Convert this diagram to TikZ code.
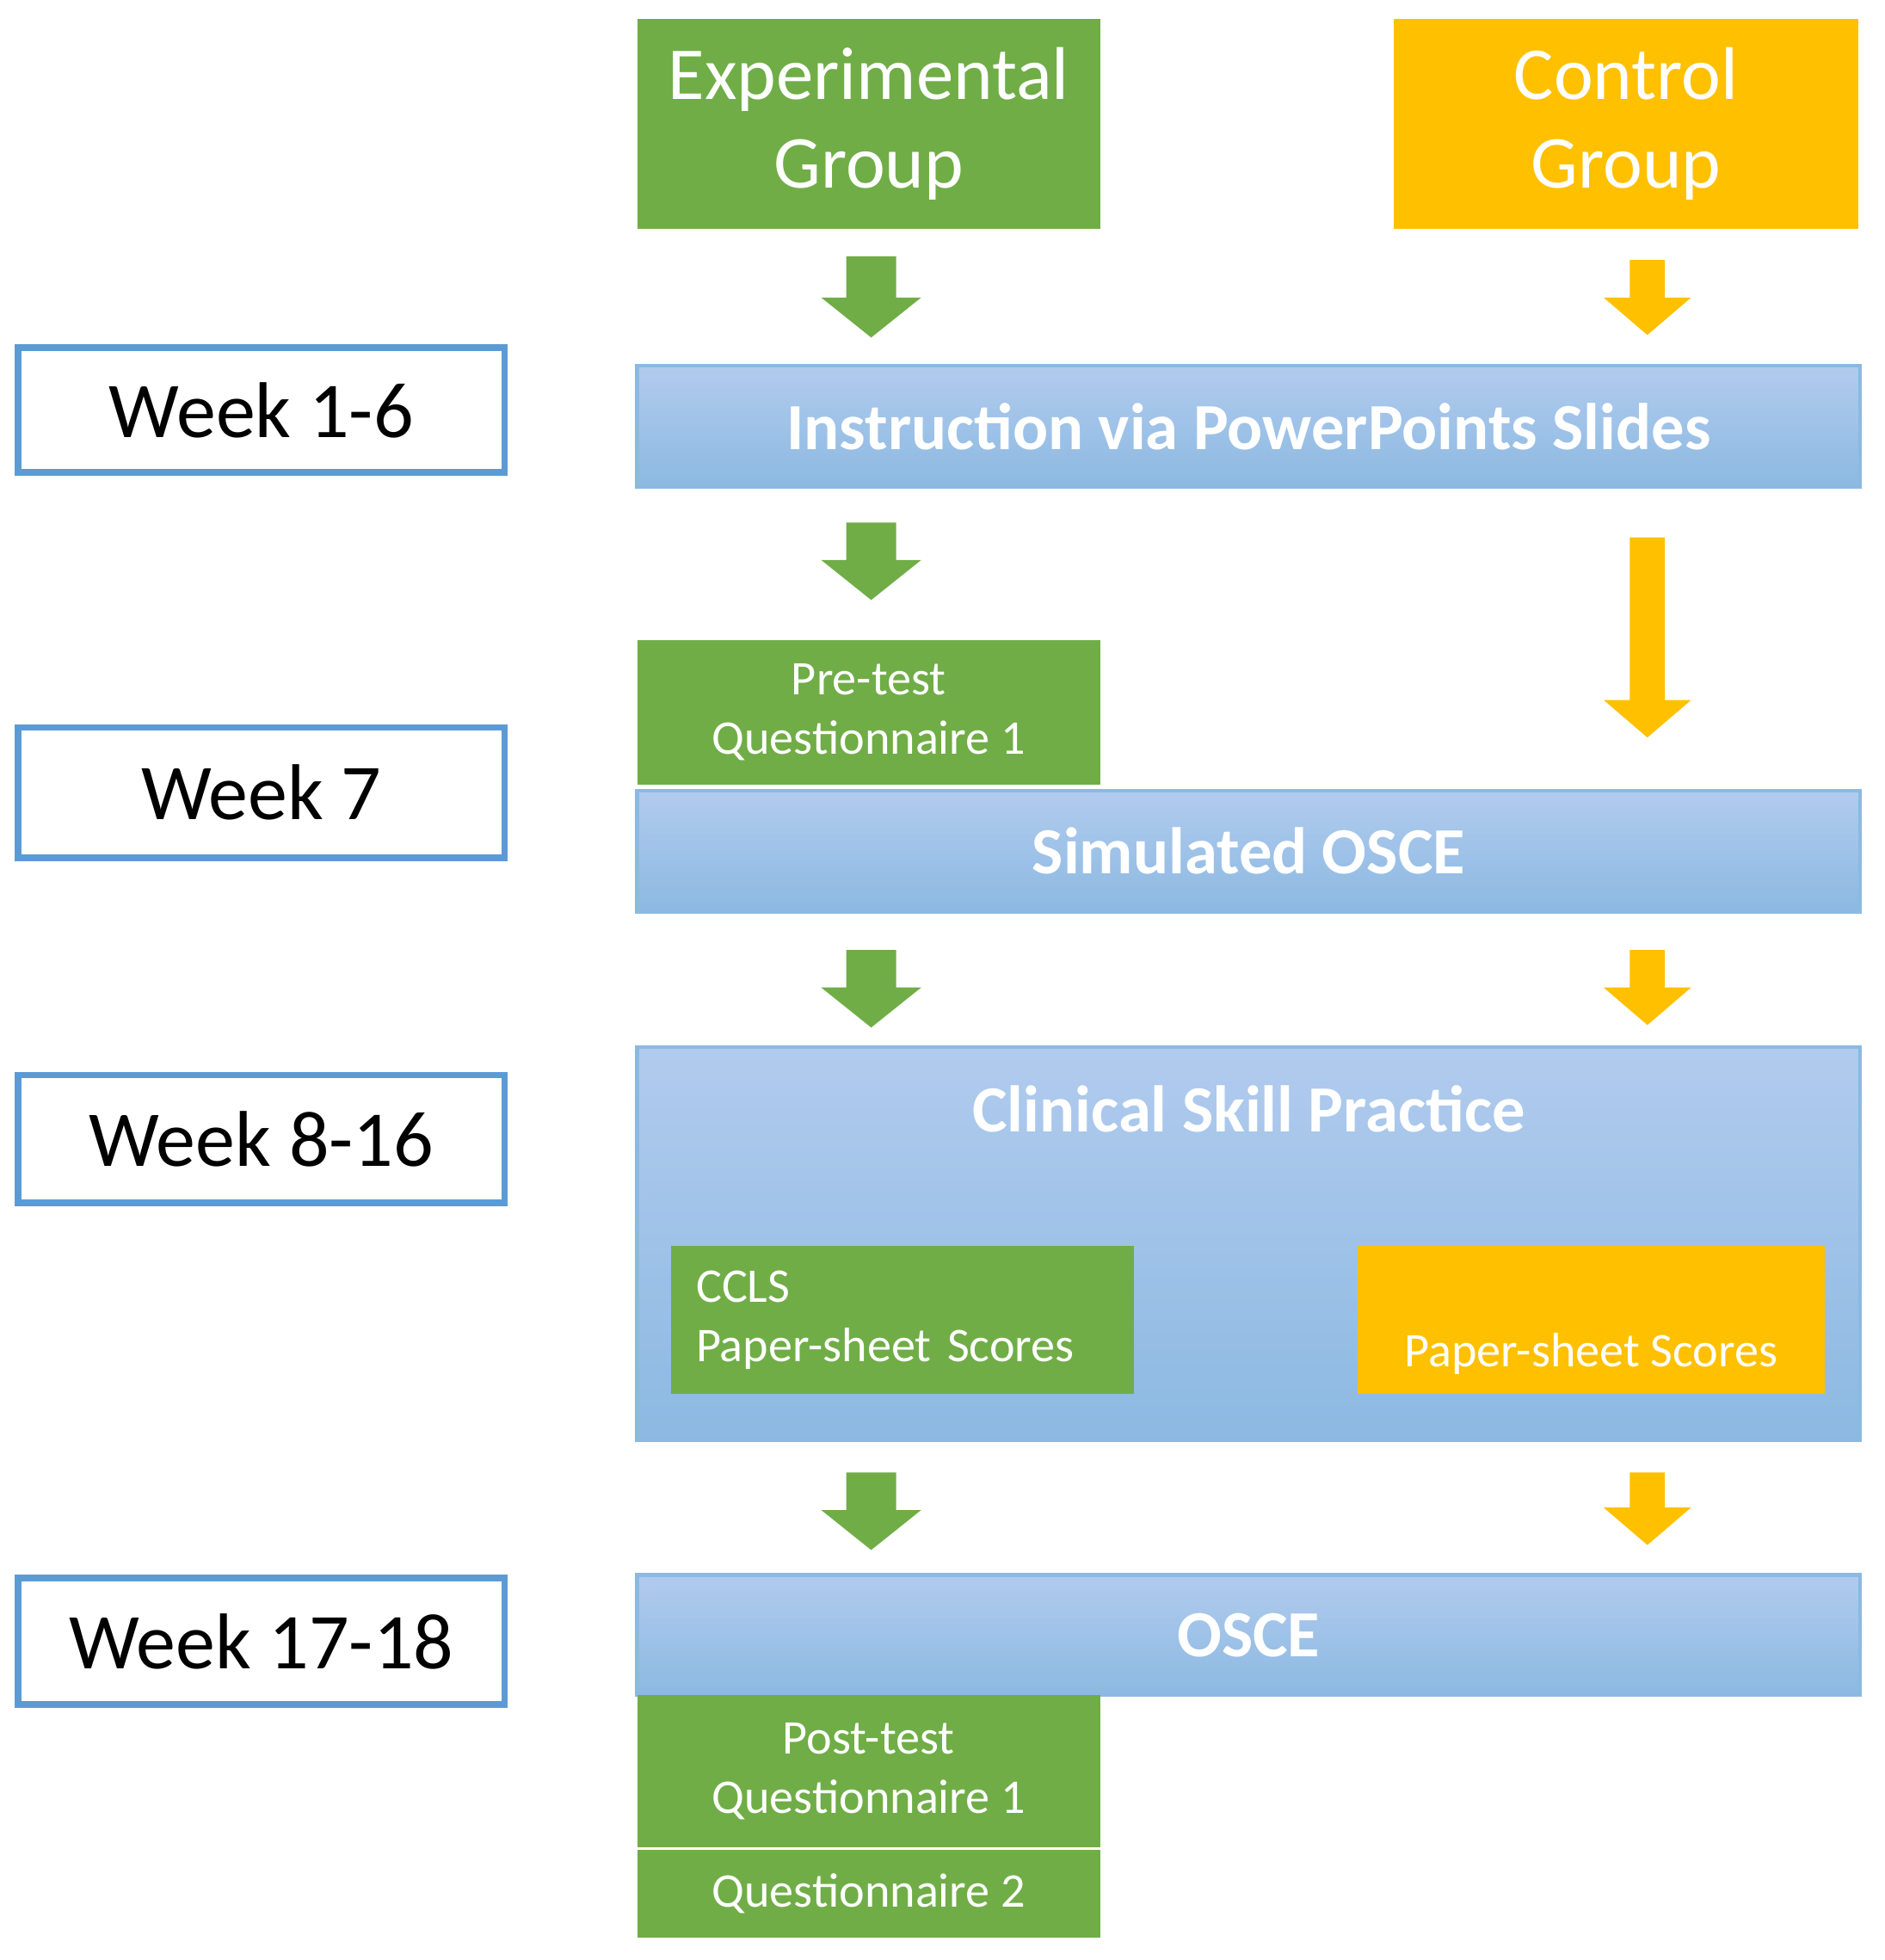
\documentclass[tikz,border=0pt]{standalone}
\usepackage{fontspec}
\setmainfont{Carlito}
\begin{document}
\begin{tikzpicture}[x=0.01cm,y=-0.01cm]
\definecolor{gr}{HTML}{70AD47}
\definecolor{og}{HTML}{FFC000}
\definecolor{bl}{HTML}{5B9BD5}
\tikzset{
 box/.style={draw=none,inner sep=0pt,align=center,text=white},
 bar/.style={draw=bl!70,line width=0.8pt,top color=blue!10!bl!45!white,bottom color=bl!70!white,inner sep=0pt,align=center,text=white,font=\bfseries\fontsize{15}{18}\selectfont},
 week/.style={draw=bl,line width=1.5pt,fill=white,inner sep=0pt,font=\fontsize{18}{22}\selectfont},
}
\useasboundingbox (0,0) rectangle (1508,1568);
\newcommand\blk[7]{% x, ytop, ybot, color, half shaft, half head, head len
 \fill[#4] (#1-#5,#2) -- (#1+#5,#2) -- (#1+#5,#3-#7) -- (#1+#6,#3-#7) -- (#1,#3) -- (#1-#6,#3-#7) -- (#1-#5,#3-#7) -- cycle;}
% groups
\node[box,fill=gr,minimum width=3.70cm,minimum height=1.68cm,font=\fontsize{17}{20}\selectfont] (exp) at (695,99) {Experimental\\Group};
\node[box,fill=og,minimum width=3.71cm,minimum height=1.68cm,font=\fontsize{17}{20}\selectfont] (ctl) at (1301,99) {Control\\Group};
% bars
\node[bar,minimum width=9.78cm,minimum height=0.97cm] (ins) at (999,341) {Instruction via PowerPoints Slides};
\node[box,fill=gr,minimum width=3.70cm,minimum height=1.16cm,font=\fontsize{11}{13.5}\selectfont] (pre) at (695,570) {Pre-test\\Questionnaire 1};
\node[bar,minimum width=9.78cm,minimum height=0.97cm] (sim) at (999,681) {Simulated OSCE};
\node[bar,minimum width=9.78cm,minimum height=3.14cm] (csp) at (999,995) {};
\node[text=white,font=\bfseries\fontsize{15}{18}\selectfont] (cspt) at (999,887) {Clinical Skill Practice};
\node[box,fill=gr,minimum width=3.70cm,minimum height=1.18cm,align=left,font=\fontsize{11}{13.5}\selectfont,text width=3.30cm] (ccls) at (722,1056) {CCLS\\Paper-sheet Scores};
\node[box,fill=og,minimum width=3.73cm,minimum height=1.18cm,font=\fontsize{11}{13.5}\selectfont] (pss) at (1273,1056) {\strut\\Paper-sheet Scores};
\node[bar,minimum width=9.78cm,minimum height=0.96cm] (osce) at (999,1308) {OSCE};
\node[box,fill=gr,minimum width=3.70cm,minimum height=1.22cm,font=\fontsize{11}{13.5}\selectfont] (post) at (695,1417) {Post-test\\Questionnaire 1};
\node[box,fill=gr,minimum width=3.70cm,minimum height=0.70cm,font=\fontsize{11}{13.5}\selectfont] (q2) at (695,1515) {Questionnaire 2};
% weeks
\node[week,minimum width=3.89cm,minimum height=1.00cm] (w1) at (209,328) {Week 1-6};
\node[week,minimum width=3.89cm,minimum height=1.04cm] (w2) at (209,634) {Week 7};
\node[week,minimum width=3.89cm,minimum height=1.02cm] (w3) at (209,911) {Week 8-16};
\node[week,minimum width=3.89cm,minimum height=1.01cm] (w4) at (209,1313) {Week 17-18};
% arrows
\blk{697}{205}{270}{gr}{20}{40}{32}
\blk{1318}{208}{268}{og}{14}{35}{30}
\blk{697}{418}{480}{gr}{20}{40}{32}
\blk{1318}{430}{590}{og}{14}{35}{30}
\blk{697}{760}{822}{gr}{20}{40}{32}
\blk{1318}{760}{820}{og}{14}{35}{30}
\blk{697}{1178}{1240}{gr}{20}{40}{32}
\blk{1318}{1178}{1236}{og}{14}{35}{30}
\end{tikzpicture}
\end{document}
